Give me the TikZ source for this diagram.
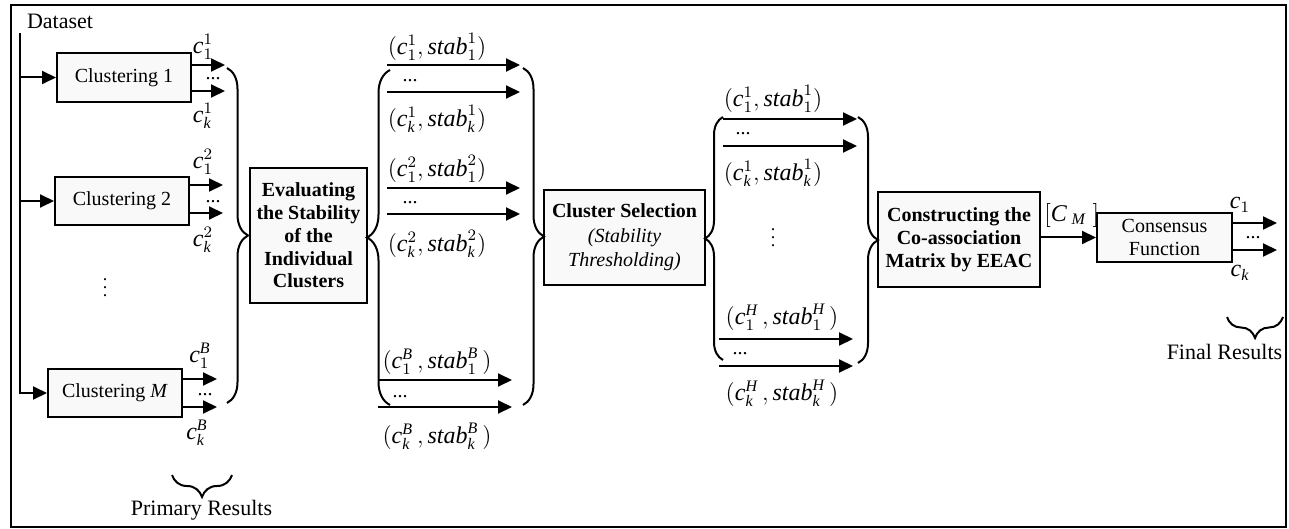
\documentclass[tikz,border=0pt]{standalone}
\usepackage{fontspec}
\setmainfont{Liberation Serif}
\usetikzlibrary{arrows.meta,decorations.pathreplacing}
\newcommand\mc{\mathit{c}}
\newcommand\stb{\mathit{stab}}
\begin{document}
\begin{tikzpicture}[x=0.5pt,y=-0.5pt,
 box/.style={draw,line width=1pt,fill=gray!5,inner sep=0pt,align=center,font=\fontsize{10}{11.4}\selectfont},
 bbox/.style={box,font=\fontsize{10}{11.4}\selectfont\bfseries},
 arr/.style={line width=1pt,-{Triangle[length=7pt,width=6.5pt]}},
 lbl/.style={inner sep=0pt,font=\fontsize{12}{14}\selectfont},
 dts/.style={inner sep=0pt,font=\fontsize{10}{12}\selectfont,anchor=base,text height=1.2pt,text depth=0pt},
 brc/.style={decorate,decoration={brace,amplitude=#1},line width=1pt},
 captxt/.style={inner sep=0pt,font=\fontsize{11}{13}\selectfont}]
\useasboundingbox (0,0) rectangle (1289,529);
\draw[line width=1.2pt] (11,5) rectangle (1286,527);

% boxes
\node[captxt] (ds) at (60,21) {Dataset};
\node[box,minimum width=67pt,minimum height=24.5pt] (c1) at (124,77.5) {Clustering 1};
\node[box,minimum width=67pt,minimum height=24pt] (c2) at (122,201) {Clustering 2};
\node[box,minimum width=67pt,minimum height=24pt] (cM) at (115,393) {Clustering \textit{M}};
\node[bbox,minimum width=58.5pt,minimum height=67.5pt] (ev) at (308.5,235.5) {Evaluating\\the Stability\\of the\\Individual\\Clusters};
\node[box,minimum width=80.5pt,minimum height=47.5pt,font=\fontsize{10}{12.2}\selectfont] (cs) at (624.5,237.5) {\textbf{Cluster Selection}\\\textit{(Stability}\\\textit{Thresholding)}};
\node[bbox,minimum width=81pt,minimum height=47.5pt] (co) at (959,239.5) {Constructing the\\Co-association\\Matrix by EEAC};
\node[box,minimum width=67.5pt,minimum height=24.5pt] (cf) at (1164.5,237.5) {Consensus\\Function};

% dataset line
\coordinate (dtop) at (20,33);
\draw[arr] (dtop) |- (cM.west);
\draw[arr] (dtop |- c1.west) -- (c1.west);
\draw[arr] (dtop |- c2.west) -- (c2.west);
\node[lbl,font=\fontsize{9}{10}\selectfont] (vd1) at (105,282) {$\vdots$};

% clustering outputs
\coordinate (a11) at (225,65); \coordinate (a12) at (225,91);
\coordinate (a21) at (223,185); \coordinate (a22) at (223,213);
\coordinate (aM1) at (217,379); \coordinate (aM2) at (217,407);
\draw[arr] (c1.east |- a11) -- (a11);
\draw[arr] (c1.east |- a12) -- (a12);
\draw[arr] (c2.east |- a21) -- (a21);
\draw[arr] (c2.east |- a22) -- (a22);
\draw[arr] (cM.east |- aM1) -- (aM1);
\draw[arr] (cM.east |- aM2) -- (aM2);
\node[lbl] (l11) at (203,47) {$\mc^{1}_{1}$};
\node[lbl] (l1k) at (203,116) {$\mc^{1}_{\mathit{k}}$};
\node[dts] (d11) at (213,80) {...};
\node[lbl] (l21) at (203,162) {$\mc^{2}_{1}$};
\node[lbl] (l2k) at (203,240) {$\mc^{2}_{\mathit{k}}$};
\node[dts] (d21) at (213,203) {...};
\node[lbl] (lM1) at (200,356) {$\mc^{\mathit{B}}_{1}$};
\node[lbl] (lMk) at (197,433) {$\mc^{\mathit{B}}_{\mathit{k}}$};
\node[dts] (dM1) at (205,395) {...};

% braces
\draw[brc=10.5pt] (227,68) -- (227,403);
\draw[brc=11.5pt] (390,405) -- (390,70);
\draw[brc=10.5pt] (523,68) -- (523,405);
\draw[brc=9pt] (723,360) -- (723,117);
\draw[brc=10pt] (858,117) -- (858,363);
\draw[brc=11pt] (232,475) -- (172,475);
\draw[brc=10.5pt] (1283,317) -- (1227,317);
\node[captxt] (pr) at (201.5,510) {Primary Results};
\node[captxt] (fr) at (1224.5,352) {Final Results};

% stage 2 arrows
\coordinate (s1) at (387,65);  \coordinate (e1) at (520,65);
\coordinate (s2) at (387,92);  \coordinate (e2) at (520,92);
\coordinate (s3) at (387,188); \coordinate (e3) at (520,188);
\coordinate (s4) at (387,214); \coordinate (e4) at (520,214);
\coordinate (s5) at (378,380); \coordinate (e5) at (512,380);
\coordinate (s6) at (378,407); \coordinate (e6) at (512,407);
\foreach \i in {1,...,6}{\draw[arr] (s\i) -- (e\i);}
\node[lbl] (t1) at (437,47) {$(\mc^{1}_{1},\stb^{1}_{1})$};
\node[dts] (t1d) at (410,82) {...};
\node[lbl] (t2) at (437,119) {$(\mc^{1}_{\mathit{k}},\stb^{1}_{\mathit{k}})$};
\node[lbl] (t3) at (437,169) {$(\mc^{2}_{1},\stb^{2}_{1})$};
\node[dts] (t3d) at (410,204) {...};
\node[lbl] (t4) at (437,244) {$(\mc^{2}_{\mathit{k}},\stb^{2}_{\mathit{k}})$};
\node[lbl] (t5) at (437,361) {$(\mc^{\mathit{B}}_{1}\,,\stb^{\mathit{B}}_{1}\,)$};
\node[dts] (t5d) at (400,397) {...};
\node[lbl] (t6) at (437,436) {$(\mc^{\mathit{B}}_{\mathit{k}}\,,\stb^{\mathit{B}}_{\mathit{k}}\,)$};

% stage 3 arrows
\coordinate (p1) at (723,119); \coordinate (q1) at (857,119);
\coordinate (p2) at (723,146); \coordinate (q2) at (857,146);
\coordinate (p3) at (719,339); \coordinate (q3) at (853,339);
\coordinate (p4) at (719,366); \coordinate (q4) at (853,366);
\foreach \i in {1,...,4}{\draw[arr] (p\i) -- (q\i);}
\node[lbl] (u1) at (773,99) {$(\mc^{1}_{1},\stb^{1}_{1})$};
\node[dts] (u1d) at (743,135) {...};
\node[lbl] (u2) at (773,173) {$(\mc^{1}_{\mathit{k}},\stb^{1}_{\mathit{k}})$};
\node[lbl,font=\fontsize{9}{10}\selectfont] (vd2) at (773,232) {$\vdots$};
\node[lbl] (u3) at (782,317) {$(\mc^{\mathit{H}}_{1}\,,\stb^{\mathit{H}}_{1}\,)$};
\node[dts] (u3d) at (740,354) {...};
\node[lbl] (u4) at (782,393) {$(\mc^{\mathit{H}}_{\mathit{k}}\,,\stb^{\mathit{H}}_{\mathit{k}}\,)$};

% final
\draw[arr] (co.east |- cf.west) -- (cf.west);
\node[lbl,anchor=west] (cm) at (1044,215) {$[\mathit{C}_{\;\mathit{M}}\;]$};
\coordinate (f1) at (1277,223); \coordinate (f2) at (1277,250);
\draw[arr] (cf.east |- f1) -- (f1);
\draw[arr] (cf.east |- f2) -- (f2);
\node[lbl] (o1) at (1240,205) {$\mc_{1}$};
\node[lbl] (ok) at (1240,273) {$\mc_{\mathit{k}}$};
\node[dts] (od) at (1253,239) {...};
\end{tikzpicture}
\end{document}
